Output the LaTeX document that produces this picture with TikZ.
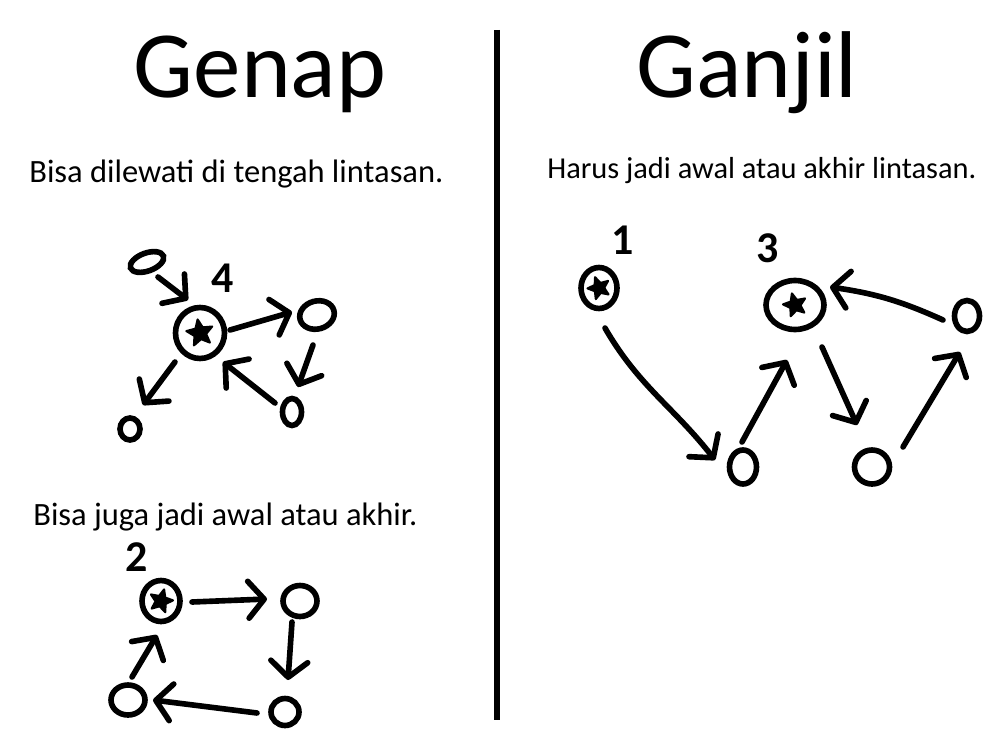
\documentclass[tikz,border=0pt]{standalone}
\usepackage{fontspec}
\setmainfont{Carlito}
\usetikzlibrary{arrows.meta,shapes.geometric}
\begin{document}
\begin{tikzpicture}[x=0.02cm,y=-0.02cm,
  ring/.style={ellipse, draw, line width=3.2pt, inner sep=0pt},
  starfill/.style={star, star points=5, star point ratio=2.2, fill, draw, line width=1.2pt, line join=round, inner sep=0pt, minimum size=#1},
  arr/.style={line width=3.2pt, line cap=round, -{Straight Barb[length=9pt,width=21pt,round]}},
  title/.style={font=\fontsize{54}{60}\selectfont, anchor=base, inner sep=0pt},
  sub/.style={font=\fontsize{18.5}{22}\selectfont, anchor=base west, inner sep=0pt},
  lab/.style={font=\bfseries\fontsize{25}{28}\selectfont, inner sep=0pt}
]
\useasboundingbox (0,0) rectangle (1000,750);
\fill[white] (0,0) rectangle (1000,750);

% titles and texts
\node[title] (tgenap) at (260,97) {Genap};
\node[title] (tganjil) at (747,97) {Ganjil};
\node[sub] (sub1) at (29,182) {Bisa dilewati di tengah lintasan.};
\node[sub, font=\fontsize{17.3}{21}\selectfont] (sub2) at (547,178) {Harus jadi awal atau akhir lintasan.};
\node[sub] (sub3) at (33,525) {Bisa juga jadi awal atau akhir.};

% divider
\draw[line width=2.9pt] (497,30) -- (497,720);

% diagram 1
\node[ring, minimum width=0.98cm, minimum height=1.02cm] (s1) at (200,333) {};
\node[starfill=0.55cm, rotate=10] (s1star) at (200,333) {};
\node[ring, minimum width=0.7cm, minimum height=0.36cm, rotate=20] (a1) at (147,262) {};
\node[ring, minimum width=0.7cm, minimum height=0.56cm, rotate=15] (b1) at (317,315) {};
\node[ring, minimum width=0.38cm, minimum height=0.54cm] (c1) at (292,412) {};
\node[ring, minimum width=0.4cm, minimum height=0.44cm] (d1) at (130,429) {};
\node[lab] (l4) at (223,278) {4};
\draw[arr] ([shift={(11,15)}]a1.center) -- ([shift={(-12,-33)}]s1.center);
\draw[arr] ([shift={(30,-3)}]s1.center) -- ([shift={(-25,-3)}]b1.center);
\draw[arr] ([shift={(-4,30)}]b1.center) -- ([shift={(6,-25)}]c1.center);
\draw[arr] ([shift={(-17,-9)}]c1.center) -- ([shift={(23,29)}]s1.center);
\draw[arr] ([shift={(-25,29)}]s1.center) -- ([shift={(13,-24)}]d1.center);

% diagram 2
\node[ring, minimum width=0.76cm, minimum height=0.82cm] (s2) at (161,601) {};
\node[starfill=0.48cm, rotate=-15] (s2star) at (161,601) {};
\node[ring, minimum width=0.68cm, minimum height=0.62cm] (b2) at (300,601) {};
\node[ring, minimum width=0.56cm, minimum height=0.54cm] (c2) at (285,712) {};
\node[ring, minimum width=0.68cm, minimum height=0.6cm] (d2) at (128,700) {};
\node[lab] (l2) at (137,557) {2};
\draw[arr] ([shift={(31,1)}]s2.center) -- ([shift={(-33,-2)}]b2.center);
\draw[arr] ([shift={(-8,21)}]b2.center) -- ([shift={(3,-32)}]c2.center);
\draw[arr] ([shift={(-28,1)}]c2.center) -- ([shift={(25,0)}]d2.center);
\draw[arr] ([shift={(4,-23)}]d2.center) -- ([shift={(-4,34)}]s2.center);

% diagram 3
\node[ring, minimum width=0.72cm, minimum height=0.82cm] (s3a) at (599,288) {};
\node[starfill=0.46cm, rotate=20] (s3astar) at (599,288) {};
\node[ring, minimum width=1.16cm, minimum height=0.98cm] (s3b) at (795,305) {};
\node[starfill=0.48cm, rotate=15] (s3bstar) at (795,305) {};
\node[ring, minimum width=0.5cm, minimum height=0.62cm] (e3) at (967,316) {};
\node[ring, minimum width=0.54cm, minimum height=0.68cm] (f3) at (743,467) {};
\node[ring, minimum width=0.7cm, minimum height=0.68cm] (g3) at (872,467) {};
\node[lab] (l1) at (623,240) {1};
\node[lab] (l3) at (768,248) {3};
\draw[arr] ([shift={(6,40)}]s3a.center) to[out=-60,in=128] ([shift={(-28,-7)}]f3.center);
\draw[arr] ([shift={(-1,-25)}]f3.center) -- ([shift={(-8,55)}]s3b.center);
\draw[arr] ([shift={(27,42)}]s3b.center) -- ([shift={(-15,-42)}]g3.center);
\draw[arr] ([shift={(31,-20)}]g3.center) -- ([shift={(-7,36)}]e3.center);
\draw[arr] ([shift={(-24,4)}]e3.center) to[bend right=8] ([shift={(35,-18)}]s3b.center);
\end{tikzpicture}
\end{document}
